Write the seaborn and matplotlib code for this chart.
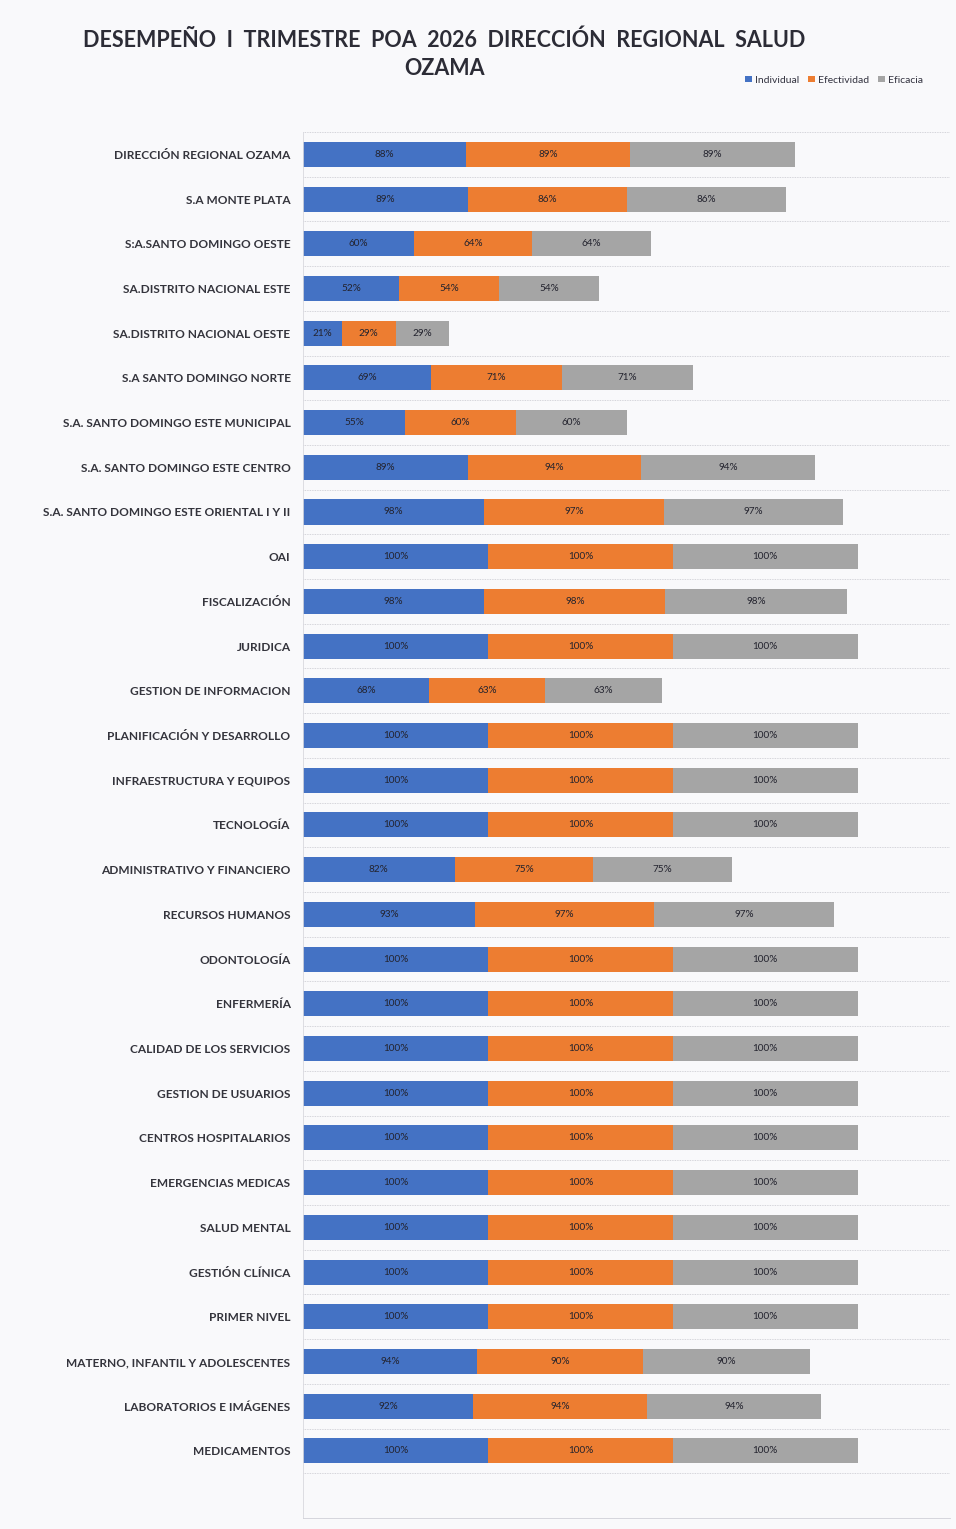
import matplotlib
matplotlib.use('Agg')
import matplotlib.pyplot as plt
import seaborn as sns
import pandas as pd

# Datos del gráfico (porcentajes)
categories = [
    'DIRECCIÓN REGIONAL OZAMA',
    'S.A MONTE PLATA',
    'S:A.SANTO DOMINGO OESTE',
    'SA.DISTRITO NACIONAL ESTE',
    'SA.DISTRITO NACIONAL OESTE',
    'S.A SANTO DOMINGO NORTE',
    'S.A. SANTO DOMINGO ESTE MUNICIPAL',
    'S.A. SANTO DOMINGO ESTE CENTRO',
    'S.A. SANTO DOMINGO ESTE ORIENTAL I Y II',
    'OAI',
    'FISCALIZACIÓN',
    'JURIDICA',
    'GESTION DE INFORMACION',
    'PLANIFICACIÓN Y DESARROLLO',
    'INFRAESTRUCTURA Y EQUIPOS',
    'TECNOLOGÍA',
    'ADMINISTRATIVO Y FINANCIERO',
    'RECURSOS HUMANOS',
    'ODONTOLOGÍA',
    'ENFERMERÍA',
    'CALIDAD DE LOS SERVICIOS',
    'GESTION DE USUARIOS',
    'CENTROS HOSPITALARIOS',
    'EMERGENCIAS MEDICAS',
    'SALUD MENTAL',
    'GESTIÓN CLÍNICA',
    'PRIMER NIVEL',
    'MATERNO, INFANTIL Y ADOLESCENTES',
    'LABORATORIOS E IMÁGENES',
    'MEDICAMENTOS',
]
individual = [88, 89, 60, 52, 21, 69, 55, 89, 98, 100, 98, 100, 68, 100, 100, 100,
              82, 93, 100, 100, 100, 100, 100, 100, 100, 100, 100, 94, 92, 100]
efectividad = [89, 86, 64, 54, 29, 71, 60, 94, 97, 100, 98, 100, 63, 100, 100, 100,
               75, 97, 100, 100, 100, 100, 100, 100, 100, 100, 100, 90, 94, 100]
eficacia = [89, 86, 64, 54, 29, 71, 60, 94, 97, 100, 98, 100, 63, 100, 100, 100,
            75, 97, 100, 100, 100, 100, 100, 100, 100, 100, 100, 90, 94, 100]

series_names = ['Individual', 'Efectividad', 'Eficacia']
colors = ['#4472C4', '#ED7D31', '#A5A5A5']

df = pd.DataFrame({'categoria': categories, 'Individual': individual,
                   'Efectividad': efectividad, 'Eficacia': eficacia})
df['c1'] = df['Individual']
df['c2'] = df['c1'] + df['Efectividad']
df['c3'] = df['c2'] + df['Eficacia']

sns.set_style('white')
plt.rcParams['font.family'] = ['Lato', 'DejaVu Sans']

bg = '#f9f9fb'
fig = plt.figure(figsize=(9.56, 15.29), dpi=100, facecolor=bg)
ax = fig.add_axes([0.317, 0.0072, 0.677, 0.9065])
ax.set_facecolor(bg)

# Barras apiladas: se dibuja primero el total y luego los acumulados
for col, color, name in [('c3', colors[2], 'Eficacia'),
                         ('c2', colors[1], 'Efectividad'),
                         ('c1', colors[0], 'Individual')]:
    sns.barplot(data=df, x=col, y='categoria', orient='h', color=color,
                saturation=1, width=0.56, ax=ax, label=name, linewidth=0)

# Etiquetas de datos centradas en cada segmento
for i, row in df.iterrows():
    starts = [0, row['c1'], row['c2']]
    for s, name in zip(starts, series_names):
        v = row[name]
        ax.text(s + v / 2, i, f'{v}%', ha='center', va='center',
                fontsize=7.2, color='#23232e')

ax.set_xlim(0, 350)
ax.set_ylim(30.5, -0.5)
ax.set_xlabel('')
ax.set_ylabel('')
ax.set_xticks([])
ax.set_yticks(range(len(categories)))
ax.set_yticklabels(categories, fontsize=8.6, fontweight='bold', color='#34343c')
ax.tick_params(axis='y', length=0, pad=9)

# Líneas de cuadrícula punteadas entre categorías
for b in range(len(categories) + 1):
    ax.axhline(b - 0.5, color='#c8c8d0', lw=0.6, ls=(0, (1, 1)), zorder=0)
for side in ['top', 'right']:
    ax.spines[side].set_visible(False)
ax.spines['left'].set_color('#d8d8de')
ax.spines['left'].set_linewidth(0.6)
ax.spines['bottom'].set_color('#d0d0d8')
ax.spines['bottom'].set_linestyle((0, (1, 1)))
ax.spines['bottom'].set_linewidth(0.6)

# Leyenda
handles, labels = ax.get_legend_handles_labels()
order = [labels.index(n) for n in series_names]
fig.legend([handles[k] for k in order], series_names, loc='center right',
           bbox_to_anchor=(0.975, 0.9475), ncol=3, frameon=False, fontsize=7.5,
           handlelength=0.6, handleheight=0.6, handletextpad=0.3, columnspacing=0.9,
           labelcolor='#333340')
if ax.get_legend() is not None:
    ax.get_legend().remove()

# Título
fig.text(0.465, 0.9645, 'DESEMPEÑO  I  TRIMESTRE  POA  2026  DIRECCIÓN  REGIONAL  SALUD\nOZAMA',
         ha='center', va='center', fontsize=15.5, fontweight='bold',
         color='#2c2c36', linespacing=1.38)

plt.savefig('out.png', dpi=100, facecolor=bg)
